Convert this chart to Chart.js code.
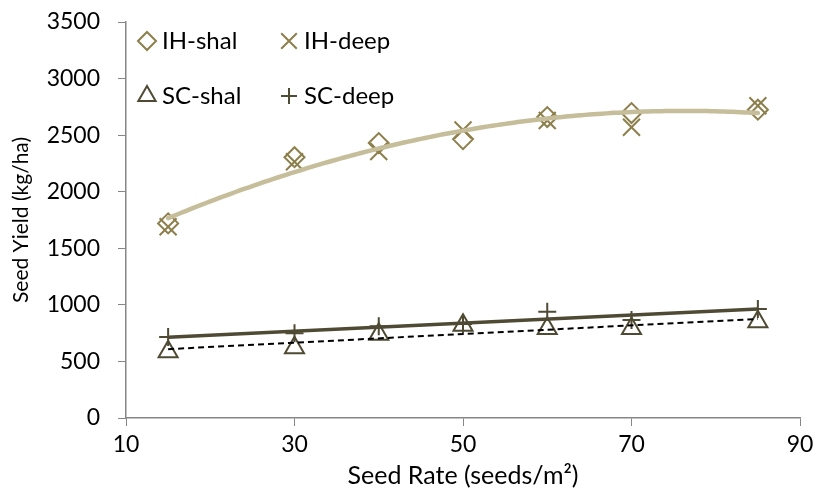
<!DOCTYPE html>
<html>
<head>
<meta charset="utf-8">
<script src="https://cdn.jsdelivr.net/npm/chart.js@4/dist/chart.umd.min.js"></script>
<style>
  html, body { margin: 0; padding: 0; background: #fff; }
</style>
</head>
<body>
<canvas id="grafica" width="815" height="488"></canvas>
<script>
// Datos
const tasaSiembra = [15, 30, 40, 50, 60, 70, 85];
const ihShal = [1720, 2305, 2430, 2465, 2660, 2695, 2725];
const ihDeep = [1690, 2265, 2355, 2545, 2630, 2570, 2760];
const scShal = [585, 620, 740, 820, 790, 790, 850];
const scDeep = [715, 750, 810, 830, 940, 866, 963];
const nombresSeries = ['IH-shal', 'IH-deep', 'SC-shal', 'SC-deep'];
const ticksX = [10, 30, 50, 70, 90];
const ticksY = [0, 500, 1000, 1500, 2000, 2500, 3000, 3500];

const colorIH = '#8c7f4b';
const colorSC = '#4f4a33';
const colorTendIH = '#c6bd9a';
const fuente = 'Lato, "Open Sans", sans-serif';

// Ajuste por minimos cuadrados (grado 1 o 2), como la linea de tendencia de Excel
function ajustePolinomio(xs, ys, grado) {
    const n = grado + 1;
    const A = [];
    for (let i = 0; i < n; i++) {
        A.push([]);
        for (let j = 0; j < n; j++) {
            A[i].push(xs.reduce((s, x) => s + Math.pow(x, i + j), 0));
        }
        A[i].push(xs.reduce((s, x, k) => s + Math.pow(x, i) * ys[k], 0));
    }
    // eliminacion gaussiana
    for (let i = 0; i < n; i++) {
        for (let k = i + 1; k < n; k++) {
            const f = A[k][i] / A[i][i];
            for (let j = i; j <= n; j++) A[k][j] -= f * A[i][j];
        }
    }
    const c = new Array(n).fill(0);
    for (let i = n - 1; i >= 0; i--) {
        let s = A[i][n];
        for (let j = i + 1; j < n; j++) s -= A[i][j] * c[j];
        c[i] = s / A[i][i];
    }
    return x => c.reduce((s, ci, i) => s + ci * Math.pow(x, i), 0);
}

const aPuntos = (ys) => tasaSiembra.map((x, i) => ({ x: x, y: ys[i] }));

// Tendencia IH: polinomio de grado 2 con ambas series IH
const fIH = ajustePolinomio(tasaSiembra.concat(tasaSiembra), ihShal.concat(ihDeep), 2);
const fSCdeep = ajustePolinomio(tasaSiembra, scDeep, 1);
const fSCshal = ajustePolinomio(tasaSiembra, scShal, 1);
const xMin = Math.min(...tasaSiembra), xMax = Math.max(...tasaSiembra);
const curvaIH = [];
for (let x = xMin; x <= xMax; x += 1) curvaIH.push({ x: x, y: fIH(x) });

const series = [
    { etiqueta: nombresSeries[0], estilo: 'rectRot', r: 10, color: colorIH },
    { etiqueta: nombresSeries[1], estilo: 'crossRot', r: 12, color: colorIH },
    { etiqueta: nombresSeries[2], estilo: 'triangle', r: 11, color: colorSC },
    { etiqueta: nombresSeries[3], estilo: 'cross', r: 9, color: colorSC }
];

// Leyenda 2x2 dentro del area del grafico
const leyenda = {
    id: 'leyenda',
    afterDraw(chart) {
        const ctx = chart.ctx;
        const pos = [[147, 41], [289, 41], [147, 96], [289, 96]];
        series.forEach((s, i) => {
            ctx.save();
            ctx.lineWidth = 2;
            ctx.strokeStyle = s.color;
            ctx.fillStyle = 'rgba(0,0,0,0)';
            Chart.helpers.drawPoint(ctx, { pointStyle: s.estilo, radius: s.estilo === 'crossRot' ? 11 : s.r - 1, rotation: 0, borderWidth: 2 }, pos[i][0], pos[i][1]);
            ctx.fillStyle = '#000';
            ctx.font = '24px ' + fuente;
            ctx.textBaseline = 'middle';
            ctx.fillText(s.etiqueta, pos[i][0] + 15, pos[i][1]);
            ctx.restore();
        });
    }
};

const datasetMarcas = (s, datos) => ({
    label: s.etiqueta,
    data: aPuntos(datos),
    showLine: false,
    pointStyle: s.estilo,
    pointRadius: s.r,
    pointHoverRadius: s.r,
    pointBorderWidth: 2,
    pointBorderColor: s.color,
    pointBackgroundColor: 'rgba(0,0,0,0)',
    borderColor: s.color
});

new Chart(document.getElementById('grafica'), {
    type: 'scatter',
    data: {
        datasets: [
            {
                label: 'Tendencia IH',
                data: curvaIH,
                showLine: true,
                borderColor: colorTendIH,
                borderWidth: 4.5,
                pointRadius: 0,
                tension: 0.3,
                borderCapStyle: 'round'
            },
            {
                label: 'Tendencia SC-deep',
                data: [{ x: xMin, y: fSCdeep(xMin) }, { x: xMax, y: fSCdeep(xMax) }],
                showLine: true,
                borderColor: colorSC,
                borderWidth: 3.5,
                pointRadius: 0
            },
            {
                label: 'Tendencia SC-shal',
                data: [{ x: xMin, y: fSCshal(xMin) }, { x: xMax, y: fSCshal(xMax) }],
                showLine: true,
                borderColor: '#000',
                borderWidth: 2,
                borderDash: [6, 4],
                pointRadius: 0
            },
            datasetMarcas(series[0], ihShal),
            datasetMarcas(series[1], ihDeep),
            datasetMarcas(series[2], scShal),
            datasetMarcas(series[3], scDeep)
        ]
    },
    options: {
        responsive: false,
        animation: false,
        layout: { padding: { top: 22, right: 15, left: 0, bottom: 0 } },
        plugins: {
            legend: { display: false },
            tooltip: { enabled: false }
        },
        scales: {
            x: {
                type: 'linear',
                min: ticksX[0],
                max: ticksX[ticksX.length - 1],
                afterBuildTicks: (eje) => { eje.ticks = ticksX.map(v => ({ value: v })); },
                afterFit: (eje) => { eje.height = 70; eje.paddingLeft = 0; eje.paddingRight = 0; },
                grid: { display: true, drawOnChartArea: false, drawTicks: true, tickLength: 8, color: '#868686' },
                border: { color: '#868686', width: 1.5 },
                ticks: { color: '#000', font: { family: fuente, size: 23 }, padding: 5, maxRotation: 0, callback: (v) => String(v) },
                title: { display: true, text: 'Seed Rate (seeds/m²)', color: '#000', font: { family: fuente, size: 25, lineHeight: 1 }, padding: { top: 0, bottom: 0 } }
            },
            y: {
                min: ticksY[0],
                max: ticksY[ticksY.length - 1],
                afterBuildTicks: (eje) => { eje.ticks = ticksY.map(v => ({ value: v })); },
                afterFit: (eje) => { eje.width = 126; eje.paddingTop = 0; eje.paddingBottom = 0; },
                grid: { display: true, drawOnChartArea: false, drawTicks: true, tickLength: 8, color: '#868686' },
                border: { color: '#868686', width: 1.5 },
                ticks: { color: '#000', font: { family: fuente, size: 23 }, padding: 18, callback: (v) => String(v) },
                title: { display: true, text: 'Seed Yield (kg/ha)', color: '#000', font: { family: fuente, size: 21, lineHeight: 1 }, padding: { top: 11, bottom: 0 } }
            }
        }
    },
    plugins: [leyenda]
});
</script>
</body>
</html>
